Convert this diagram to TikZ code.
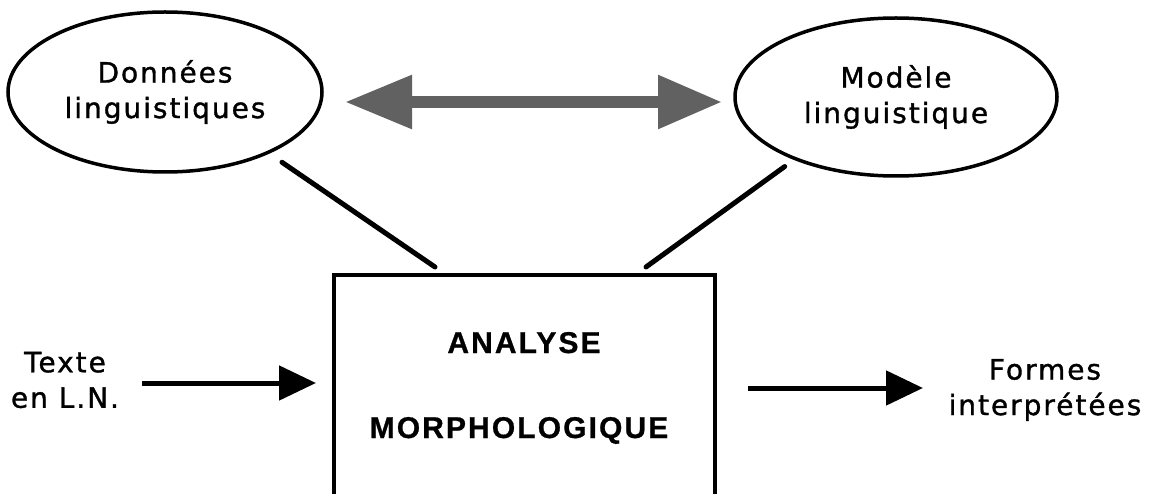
\documentclass[tikz,border=0pt]{standalone}
\usepackage{fontspec}
\usetikzlibrary{shapes.geometric,arrows.meta,calc}
\newfontfamily\labelfont[LetterSpace=7,FakeBold=1.2]{DejaVu Sans}
\newfontfamily\titlefont[LetterSpace=7,FakeBold=0.8]{Liberation Sans}
\begin{document}
\begin{tikzpicture}[x=1pt,y=-1pt,
  lbl/.style={font=\labelfont\fontsize{28}{35.5}\selectfont, align=center, inner sep=0pt},
  title/.style={font=\titlefont\bfseries\fontsize{30}{36}\selectfont, inner sep=0pt, anchor=base},
  bubble/.style={ellipse, draw, line width=3.5pt, inner sep=0pt, outer sep=0pt},
  panel/.style={draw, line width=4pt, outer sep=0pt, anchor=north west},
  link/.style={line width=5pt, line cap=round},
  flow/.style={line width=5pt, -{Triangle[length=37pt,width=34pt]}},
  swap/.style={line width=12pt, draw=black!62,
    {Triangle[length=67pt,width=51pt]}-{Triangle[length=64pt,width=51pt]}}]
  \useasboundingbox (0,0) rectangle (1165,494);
  \clip (0,0) rectangle (1165,494);

  % knowledge sources
  \node[bubble, lbl, minimum width=314pt, minimum height=160pt] (data) at (165,92) {Données\\linguistiques};
  \node[bubble, lbl, minimum width=322pt, minimum height=158pt] (model) at (896,97) {Modèle\\linguistique};

  % central processing box (open at the bottom edge)
  \node[panel, minimum width=381pt, minimum height=260pt] (analysis) at (334,275) {};
  \node[title] (an1) at (524,353) {ANALYSE};
  \node[title] (an2) at (519,438) {MORPHOLOGIQUE};

  % input and output
  \node[lbl] (src) at (65,380) {Texte\\en L.N.};
  \node[lbl] (res) at (1045,390) {Formes\\interprétées};

  % exchange between data and model
  \coordinate (swapL) at (345,102);
  \coordinate (swapR) at (722,102);
  \draw[swap] (swapL) -- (swapR);

  % links from the sources to the box
  \draw[link] ($(data.-31)!-18pt!(data.center)$) -- ($(analysis.north)+(-89.5,-8)$);
  \draw[link] ($(model.-148.6)!-14pt!(model.center)$) -- ($(analysis.north)+(121.5,-8)$);

  % flow arrows
  \coordinate (inTail) at (142,383);
  \coordinate (inTip) at (316,383);
  \coordinate (outTail) at (748,388);
  \coordinate (outTip) at (923,388);
  \draw[flow] (inTail) -- (inTip);
  \draw[flow] (outTail) -- (outTip);
\end{tikzpicture}
\end{document}
